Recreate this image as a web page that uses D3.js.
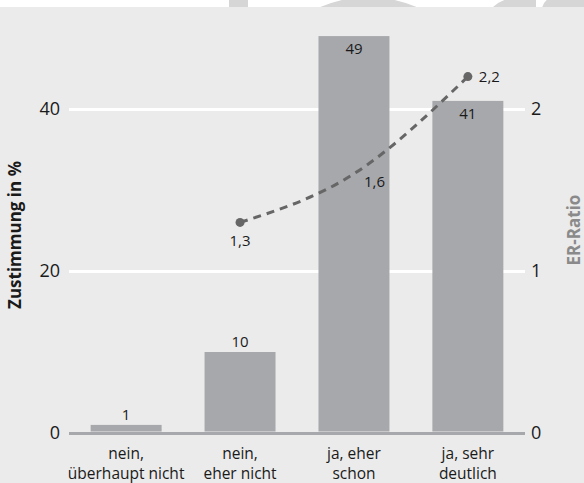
<!DOCTYPE html>
<html>
<head>
<meta charset="utf-8">
<script src="https://cdn.jsdelivr.net/npm/d3@7"></script>
<style>
  html, body { margin: 0; padding: 0; background: #ebebeb; }
  svg { display: block; }
  text { font-family: "Open Sans", "Noto Sans", sans-serif; fill: #1a1a1a; }
</style>
</head>
<body>
<svg id="chart" width="584" height="483"></svg>
<script>
// Antwortkategorien (zweizeilig beschriftet)
const categories = ["nein,|überhaupt nicht", "nein,|eher nicht", "ja, eher|schon", "ja, sehr|deutlich"];
// Zustimmung in %
const zustimmung = [1, 10, 49, 41];
// ER-Ratio je Kategorie (erste Kategorie ohne Wert)
const erRatio = [null, 1.3, 1.6, 2.2];
const erLabels = ["", "1,3", "1,6", "2,2"];
// Achsenbeschriftungen
const leftTicks = [0, 20, 40];
const rightTicks = [0, 1, 2];

const W = 584, H = 483;
const svg = d3.select("#chart");

svg.append("rect").attr("width", W).attr("height", H).attr("fill", "#ebebeb");

// heller Streifen am oberen Rand mit angeschnittenen Formen
const strip = svg.append("g");
strip.append("rect").attr("width", W).attr("height", 7).attr("fill", "#ffffff");
strip.append("defs").append("clipPath").attr("id", "stripClip")
  .append("rect").attr("width", W).attr("height", 7);
const sg = strip.append("g").attr("clip-path", "url(#stripClip)").attr("fill", "#d6d6d6");
sg.append("rect").attr("x", 229).attr("y", 0).attr("width", 19).attr("height", 7);
sg.append("path").attr("d", "M318,8 Q368,-14 419,8 Z");
sg.append("path").attr("d", "M492,8 Q505,-6 536,-2 L536,8 Z");
sg.append("path").attr("d", "M542,8 Q545,-4 560,-4 L584,-4 L584,8 Z");

const plotLeft = 69, plotRight = 525;

const x = d3.scaleBand()
  .domain(categories)
  .range([plotLeft, plotRight])
  .paddingInner(0.377)
  .paddingOuter(0.19);

const y = d3.scaleLinear().domain([0, 40]).range([433, 109]);
const y2 = d3.scaleLinear().domain([0, 2]).range([433, 109]);

// linke Achse mit Gitterlinien
const gLeft = svg.append("g")
  .attr("transform", `translate(${plotLeft},0)`)
  .call(d3.axisLeft(y).tickValues(leftTicks).tickFormat(d3.format("d"))
    .tickSizeInner(-(plotRight - plotLeft)).tickSizeOuter(0).tickPadding(9));
gLeft.select(".domain").remove();
gLeft.selectAll(".tick line")
  .attr("stroke", d => d === 0 ? "#a7a8ac" : "#ffffff")
  .attr("stroke-width", 3);
gLeft.selectAll(".tick text")
  .attr("font-size", 18).attr("fill", "#1a1a1a")
  .style("font-family", '"Open Sans", sans-serif');

// rechte Achse (ER-Ratio)
const gRight = svg.append("g")
  .attr("transform", `translate(${plotRight},0)`)
  .call(d3.axisRight(y2).tickValues(rightTicks).tickFormat(d3.format("d"))
    .tickSize(0).tickPadding(6));
gRight.select(".domain").remove();
gRight.selectAll(".tick text")
  .attr("font-size", 18).attr("fill", "#1a1a1a")
  .style("font-family", '"Open Sans", sans-serif');

// Balken
svg.append("g").selectAll("rect")
  .data(zustimmung)
  .join("rect")
  .attr("x", (d, i) => x(categories[i]))
  .attr("width", x.bandwidth())
  .attr("y", d => y(d))
  .attr("height", d => y(0) - y(d) - 1.5)
  .attr("fill", "#a7a8ac");

// Werte an den Balken: kleine Balken darüber, große innen
svg.append("g").selectAll("text")
  .data(zustimmung)
  .join("text")
  .attr("x", (d, i) => x(categories[i]) + x.bandwidth() / 2)
  .attr("y", d => d >= 20 ? y(d) + 18 : y(d) - 5)
  .attr("text-anchor", "middle")
  .attr("font-size", 15)
  .text(d => d);

// ER-Ratio als gestrichelte Kurve
const pts = erRatio.map((v, i) => ({ v, i, label: erLabels[i] })).filter(p => p.v != null);
const cx = p => x(categories[p.i]) + x.bandwidth() / 2;

svg.append("path")
  .datum(pts)
  .attr("d", d3.line().x(cx).y(p => y2(p.v)).curve(d3.curveMonotoneX))
  .attr("fill", "none")
  .attr("stroke", "#666666")
  .attr("stroke-width", 3)
  .attr("stroke-dasharray", "8,6");

const ends = [pts[0], pts[pts.length - 1]];
svg.append("g").selectAll("circle")
  .data(ends)
  .join("circle")
  .attr("cx", cx)
  .attr("cy", p => y2(p.v))
  .attr("r", 4.5)
  .attr("fill", "#666666");

// Beschriftung der Kurvenpunkte
const lbl = svg.append("g").attr("font-size", 15);
lbl.append("text").datum(pts[0])
  .attr("x", cx).attr("y", p => y2(p.v) + 24)
  .attr("text-anchor", "middle").text(p => p.label);
lbl.append("text").datum(pts[1])
  .attr("x", p => cx(p) + 10).attr("y", p => y2(p.v) + 13)
  .attr("text-anchor", "start").text(p => p.label);
lbl.append("text").datum(pts[2])
  .attr("x", p => cx(p) + 11).attr("y", p => y2(p.v) + 5)
  .attr("text-anchor", "start").text(p => p.label);

// Kategorienbeschriftung, je Zeile ein Textelement
const cat = svg.append("g").attr("font-size", 15.5).attr("text-anchor", "middle");
categories.forEach(c => {
  c.split("|").forEach((l, k) => {
    cat.append("text")
      .attr("x", x(c) + x.bandwidth() / 2)
      .attr("y", 459 + k * 20)
      .text(l);
  });
});

// Achsentitel
svg.append("text")
  .attr("transform", "translate(21,235) rotate(-90)")
  .attr("text-anchor", "middle")
  .attr("font-size", 17)
  .attr("font-weight", "bold")
  .text("Zustimmung in %");

svg.append("text")
  .attr("transform", "translate(580,230) rotate(-90)")
  .attr("text-anchor", "middle")
  .attr("font-size", 17)
  .attr("font-weight", "bold")
  .style("fill", "#8a8a8a")
  .text("ER-Ratio");
</script>
</body>
</html>
